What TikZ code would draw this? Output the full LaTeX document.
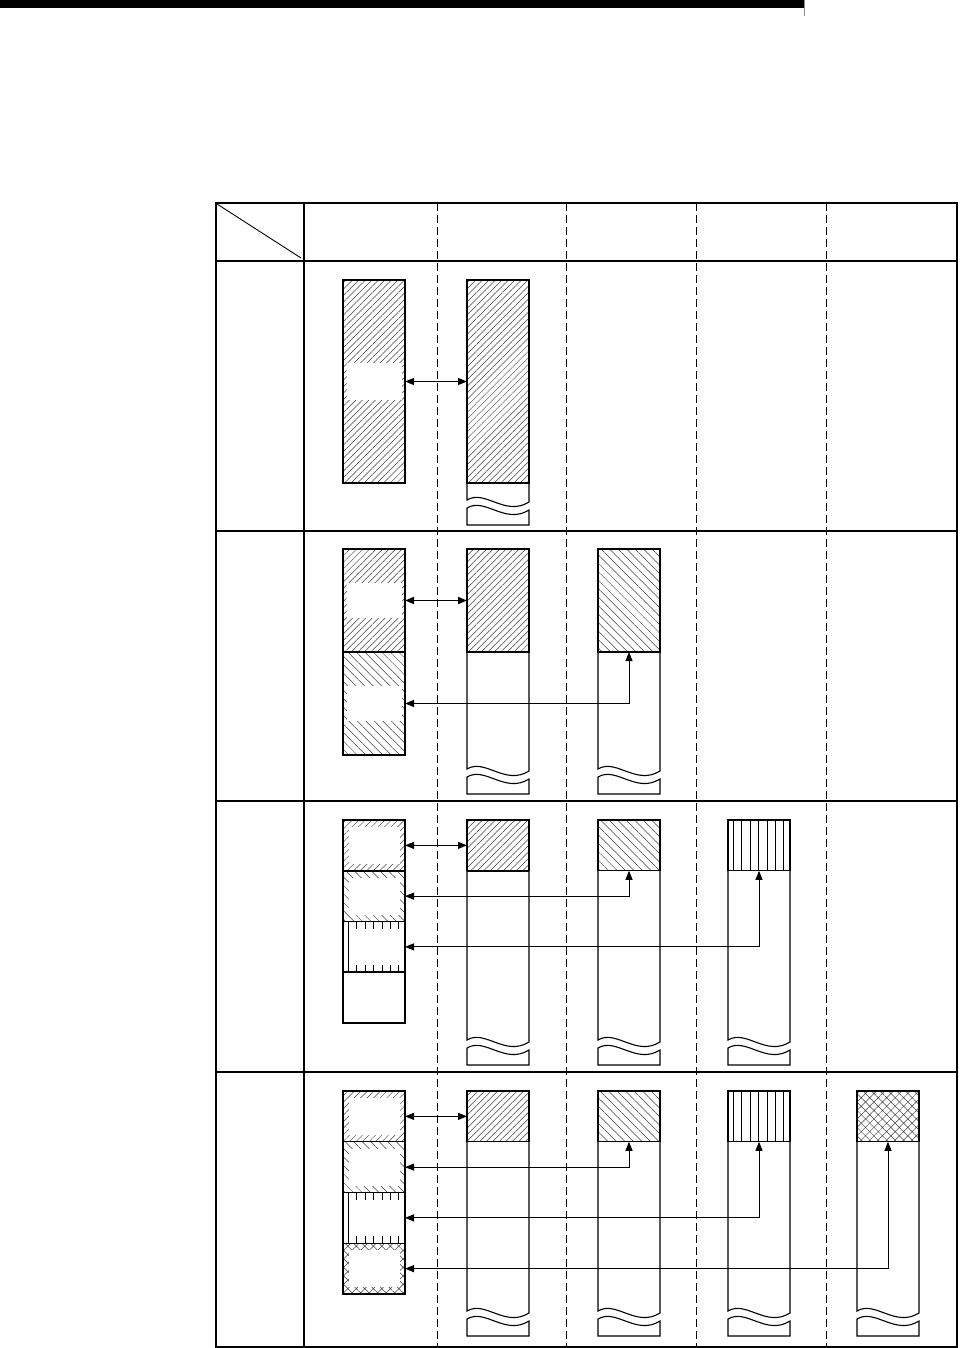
\documentclass[tikz,border=0pt]{standalone}
\usepackage{tikz}
\usetikzlibrary{arrows.meta,positioning,calc,patterns.meta}

% body of a column box below its patterned head: straight part, break, stub
\newcommand{\colbody}[3]{%
  \draw[boxline] (#1.south west) -- (#2,#3+220)
    .. controls (#2+18,#3+209) and (#2+38,#3+237) .. (#2+62,#3+222) -- (#1.south east);
  \draw[boxline] (#2,#3+228) .. controls (#2+18,#3+217) and (#2+38,#3+245) .. (#2+62,#3+230)
    -- (#2+62,#3+245) -- (#2,#3+245) -- cycle;
}

\begin{document}
\begin{tikzpicture}[
  x=1pt, y=-1pt,
  >={Triangle[length=9pt,width=7pt]},
  frame/.style={line width=1.3pt},
  rule/.style={line width=1.1pt},
  sep/.style={line width=0.8pt, dash pattern=on 8pt off 4pt},
  boxline/.style={line width=1.1pt},
  box/.style={draw, line width=1.1pt, minimum width=62pt, inner sep=0pt, outer sep=0pt},
  sec/.style={box, minimum height=50.75pt},
  ne/.style={pattern={Lines[angle=45,distance=4.6pt,line width=0.5pt]}, pattern color=black!75},
  nw/.style={pattern={Lines[angle=-45,distance=6pt,line width=0.5pt]}, pattern color=black!75},
  xh/.style={pattern={Hatch[angle=45,distance=6pt,line width=0.5pt]}, pattern color=black!75},
  vl/.style={path picture={
    \foreach \k in {0,...,6}
      \draw[line width=0.7pt] ($(path picture bounding box.north west)+(5.3+8.4*\k,0)$)
        -- ($(path picture bounding box.south west)+(5.3+8.4*\k,0)$);}},
  vband/.style={path picture={
    \foreach \k in {0,...,6}
      \draw[line width=0.7pt] ($(path picture bounding box.north west)+(5.3+8.4*\k,0)$) -- ++(0,51);
    \fill[white] ($(path picture bounding box.north west)+(6.5,7)$)
      rectangle ($(path picture bounding box.south east)+(0,-7)$);}},
  band/.style={path picture={
    \fill[white] ($(path picture bounding box.north west)+(6,7)$)
      rectangle ($(path picture bounding box.south east)+(-5,-7)$);}},
  hole/.style 2 args={path picture={
    \fill[white] ($(path picture bounding box.center)+(-#1/2,-#2/2)$)
      rectangle ($(path picture bounding box.center)+(#1/2,#2/2)$);}},
  link/.style={<->, line width=0.9pt},
]
\useasboundingbox (0,0) rectangle (960,1348);
% page rule
\fill (0,0) rectangle (804,8);
\draw[black!45, line width=0.8pt] (804,0) -- (804,16);
% table
\draw[frame] (216,203) rectangle (957,1347);
\draw[rule] (304,203) -- (304,1347);
\foreach \yy in {261,531,801,1072} \draw[rule] (216,\yy) -- (957,\yy);
\foreach \xx in {437,566,696,826} \draw[sep] (\xx,203) -- (\xx,1347);
\draw[line width=0.9pt] (217,204) -- (301,258);

% row 1
\node[box, ne, hole={55}{37}, minimum height=203pt, anchor=north west] (l1) at (343,280) {};
\node[box, ne, minimum height=203pt, anchor=north west] (r1c2) at (467,280) {};
\colbody{r1c2}{467}{280}
\draw[link] (l1.east) -- (r1c2.west);

% row 2
\node[box, ne, hole={55}{35}, minimum height=103pt, anchor=north west] (l2a) at (343,549) {};
\node[box, nw, hole={55}{35}, minimum height=103pt, below=0pt of l2a] (l2b) {};
\foreach \c/\xx/\pat in {2/467/ne, 3/598/nw} {
  \node[box, \pat, minimum height=103pt, anchor=north west] (r2c\c) at (\xx,549) {};
  \colbody{r2c\c}{\xx}{549}
}
\draw[link, line width=1.8pt] (l2a.east) -- (r2c2.west);
\draw[link] (l2b.east) -| (r2c3.south);

% row 3
\node[sec, ne, band, anchor=north west] (l3a) at (343,820) {};
\node[sec, nw, band, below=0pt of l3a] (l3b) {};
\node[sec, vband, below=0pt of l3b] (l3c) {};
\node[sec, below=0pt of l3c] (l3d) {};
\foreach \c/\xx/\pat in {2/467/ne, 3/598/nw, 4/728/vl} {
  \node[sec, \pat, anchor=north west] (r3c\c) at (\xx,820) {};
  \colbody{r3c\c}{\xx}{820}
}
\foreach \n in {l3a,l3c,r3c2} \draw[line width=2.2pt] (\n.south west) -- (\n.south east);
\draw[link] (l3a.east) -- (r3c2.west);
\draw[link] (l3b.east) -| (r3c3.south);
\draw[link] (l3c.east) -| (r3c4.south);

% row 4
\node[sec, ne, band, anchor=north west] (l4a) at (343,1091) {};
\node[sec, nw, band, below=0pt of l4a] (l4b) {};
\node[sec, vband, below=0pt of l4b] (l4c) {};
\node[sec, xh, band, below=0pt of l4c] (l4d) {};
\foreach \c/\xx/\pat in {2/467/ne, 3/598/nw, 4/728/vl, 5/857/xh} {
  \node[sec, \pat, anchor=north west] (r4c\c) at (\xx,1091) {};
  \colbody{r4c\c}{\xx}{1091}
}
\draw[link] (l4a.east) -- (r4c2.west);
\foreach \s/\c in {b/3, c/4, d/5} \draw[link] (l4\s.east) -| (r4c\c.south);
\end{tikzpicture}
\end{document}
